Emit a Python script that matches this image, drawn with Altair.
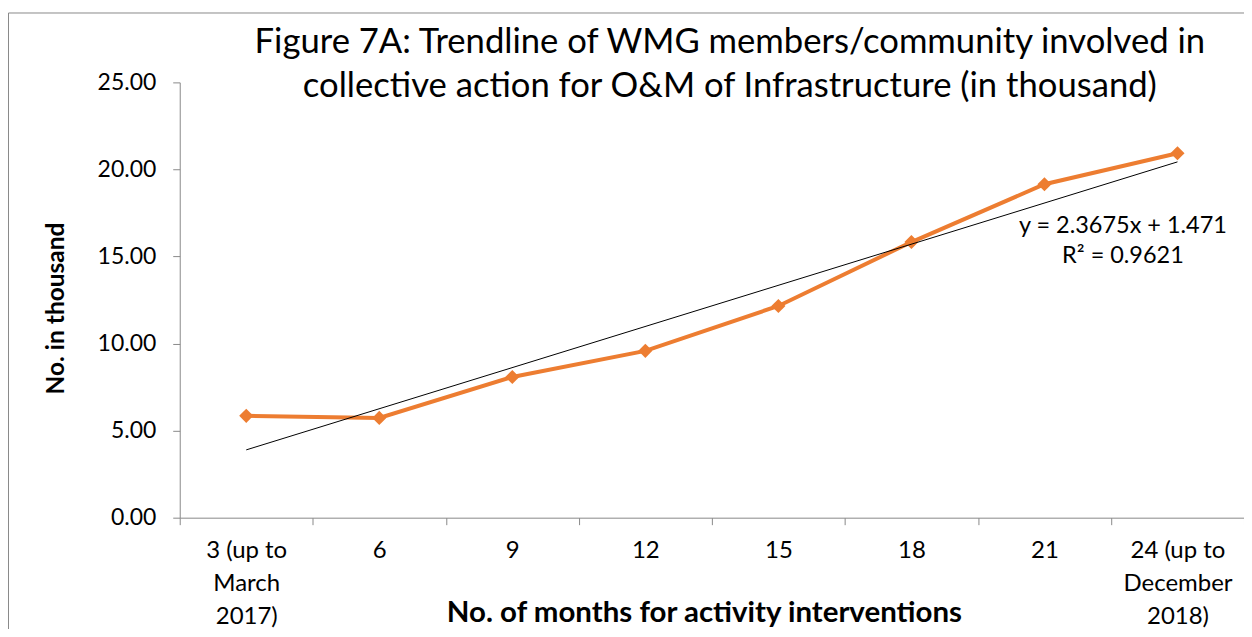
import altair as alt
import pandas as pd

categories = [
    "3 (up to\nMarch\n2017)", "6", "9", "12", "15", "18", "21",
    "24 (up to\nDecember\n2018)",
]
month_index = [1, 2, 3, 4, 5, 6, 7, 8]
members_thousand = [5.85, 5.73, 8.08, 9.58, 12.16, 15.83, 19.15, 20.93]
equation_lines = ["y = 2.3675x + 1.471", "R² = 0.9621"]
equation_pos_x = [7.59]
equation_pos_y = [16.75]
y_ticks = [0, 5, 10, 15, 20, 25]

FONT = "Lato"
ORANGE = "#ED7D31"
AXIS_GREY = "#898989"
W, H = 1066, 436

df = pd.DataFrame({"cat": categories, "idx": month_index, "value": members_thousand})
ann = pd.DataFrame({"x": equation_pos_x, "y": equation_pos_y, "t": ["\n".join(equation_lines)]})

y_scale = alt.Scale(domain=[0, 25], nice=False, zero=True)
y_axis = alt.Axis(
    title="No. in thousand", values=y_ticks, format=".2f", grid=False,
    labelFontSize=23, labelPadding=17, tickSize=7, tickColor=AXIS_GREY,
    domainColor=AXIS_GREY, titleFontSize=24.5, titleFontWeight="bold",
    titleX=-116, titleY=226, titleBaseline="alphabetic", labelColor="black", titleColor="black",
)
q_x_scale = alt.Scale(domain=[0.5, 8.5], nice=False, zero=False)

frame = alt.Chart(pd.DataFrame({"k": [0]})).mark_rect(
    fillOpacity=0, stroke=AXIS_GREY, strokeWidth=1
).encode(
    x=alt.value(-171.5), y=alt.value(-69.5), x2=alt.value(W + 300), y2=alt.value(H + 300)
)

line = alt.Chart(df).mark_line(
    color=ORANGE, strokeWidth=4,
    point=alt.OverlayMarkDef(shape="diamond", size=200, filled=True, color=ORANGE),
).encode(
    x=alt.X(
        "cat:N", sort=categories, bandPosition=0.5,
        scale=alt.Scale(type="band", paddingInner=0, paddingOuter=0),
        axis=alt.Axis(
            title="No. of months for activity interventions",
            labelExpr="split(datum.label, '\\n')",
            labelAngle=0, labelFontSize=24, labelLineHeight=33, labelPadding=14,
            labelBaseline="top",
            tickBand="extent", tickSize=7, tickColor=AXIS_GREY, domainColor=AXIS_GREY,
            titleFontSize=29.5, titleFontWeight="bold", titleY=110, titleX=W / 2 - 8,
            titleBaseline="bottom",
            labelColor="black", titleColor="black",
        ),
    ),
    y=alt.Y("value:Q", scale=y_scale, axis=y_axis),
)

trend = alt.Chart(df).transform_regression("idx", "value", method="linear").mark_line(
    color="black", strokeWidth=1
).encode(
    x=alt.X("idx:Q", scale=q_x_scale, axis=None),
    y=alt.Y("value:Q", scale=y_scale, axis=y_axis),
)

label = alt.Chart(ann).mark_text(
    fontSize=23.5, font=FONT, color="black", align="center", baseline="middle",
    lineBreak="\n", lineHeight=30,
).encode(
    x=alt.X("x:Q", scale=q_x_scale, axis=None),
    y=alt.Y("y:Q", scale=y_scale, axis=y_axis),
    text="t:N",
)

chart = alt.layer(line, trend, label, frame).resolve_scale(x="independent").properties(
    width=W, height=H,
    title=alt.TitleParams(
        ["Figure 7A: Trendline of WMG members/community involved in",
         "collective action for O&M of Infrastructure (in thousand)"],
        fontSize=34.7, font=FONT, fontWeight="normal", color="black",
        anchor="middle", frame="group", dx=18, lineHeight=44, baseline="top", offset=-92,
    ),
    autosize=alt.AutoSizeParams(type="none"),
    padding={"left": 172, "top": 74, "right": 0, "bottom": 111},
).configure(font=FONT).configure_view(stroke=None)

chart.save("out.html", embed_options={"renderer": "svg", "actions": False})
